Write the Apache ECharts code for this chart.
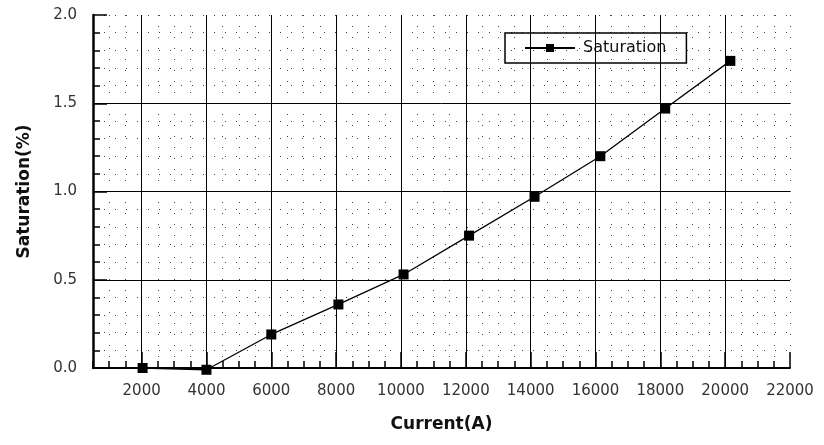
<!DOCTYPE html>
<html>
<head>
<meta charset="utf-8">
<script src="https://cdn.jsdelivr.net/npm/echarts@6/dist/echarts.min.js"></script>
<style>
    html, body { margin: 0; padding: 0; background: #fff; }
    #chart { width: 824px; height: 445px; }
</style>
</head>
<body>
<div id="chart"></div>
<script>
// values
const currentA = [2030, 4000, 6000, 8070, 10080, 12100, 14120, 16150, 18150, 20160];
const saturation = [0.0, -0.01, 0.19, 0.36, 0.53, 0.75, 0.97, 1.20, 1.47, 1.74];

// solid grid lines and long ticks
const majorX = [2000, 4000, 6000, 8000, 10000, 12000, 14000, 16000, 18000, 20000];
const majorY = [0.5, 1.0, 1.5];
const xLabels = [2000, 4000, 6000, 8000, 10000, 12000, 14000, 16000, 18000, 20000, 22000];
const yLabels = [0.0, 0.5, 1.0, 1.5, 2.0];

const FONT = 'DejaVu Sans';
const chart = echarts.init(document.getElementById('chart'));

const minorSplit = {
    show: true,
    lineStyle: { color: '#444', width: 1, type: [1, 10] }
};

chart.setOption({
    animation: false,
    grid: { left: 93, right: 34, top: 15, bottom: 77 },
    legend: {
        data: ['Saturation'],
        left: 505,
        top: 33,
        padding: [7, 20, 7, 19],
        itemWidth: 50,
        itemHeight: 10,
        borderColor: '#000',
        borderWidth: 1.5,
        textStyle: { fontFamily: FONT, fontSize: 16, color: '#111', padding: [0, 0, 0, 3] }
    },
    xAxis: [{
        type: 'value',
        min: 500,
        max: 22000,
        interval: 500,
        name: 'Current(A)',
        nameLocation: 'middle',
        nameGap: 48,
        nameTextStyle: { fontFamily: FONT, fontSize: 17, fontWeight: 'bold', color: '#111' },
        axisLine: { lineStyle: { color: '#000', width: 2 } },
        axisTick: { inside: true, length: 7, lineStyle: { color: '#000', width: 1.5 } },
        axisLabel: {
            margin: 16,
            fontFamily: FONT,
            fontSize: 15,
            color: '#333',
            formatter: (v) => xLabels.includes(v) ? String(v) : ''
        },
        splitLine: minorSplit
    }, {
        type: 'value',
        min: 500,
        max: 22000,
        interval: 500,
        position: 'bottom',
        axisLine: { show: false },
        axisTick: { inside: true, length: 16, customValues: xLabels, lineStyle: { color: '#000', width: 1.5 } },
        axisLabel: { show: false },
        splitLine: { show: false }
    }],
    yAxis: [{
        type: 'value',
        min: 0,
        max: 2,
        interval: 0.1,
        name: 'Saturation(%)',
        nameLocation: 'middle',
        nameGap: 60,
        nameTextStyle: { fontFamily: FONT, fontSize: 17, fontWeight: 'bold', color: '#111' },
        axisLine: { show: true, lineStyle: { color: '#000', width: 2.5 } },
        axisTick: { show: true, inside: true, length: 7, lineStyle: { color: '#000', width: 1.5 } },
        axisLabel: {
            margin: 16,
            fontFamily: FONT,
            fontSize: 15,
            color: '#333',
            formatter: (v) => yLabels.some(l => Math.abs(l - v) < 1e-6) ? v.toFixed(1) : ''
        },
        splitLine: minorSplit
    }, {
        type: 'value',
        min: 0,
        max: 2,
        interval: 0.5,
        position: 'left',
        axisLine: { show: false },
        axisTick: { show: true, inside: true, length: 14, lineStyle: { color: '#000', width: 1.5 } },
        axisLabel: { show: false },
        splitLine: { show: false }
    }],
    series: [{
        name: 'Saturation',
        type: 'line',
        data: currentA.map((x, i) => [x, saturation[i]]),
        symbol: 'rect',
        symbolSize: 10,
        clip: false,
        itemStyle: { color: '#000' },
        lineStyle: { color: '#000', width: 1.3 },
        markLine: {
            silent: true,
            symbol: 'none',
            label: { show: false },
            lineStyle: { color: '#000', width: 1, type: 'solid' },
            data: majorX.map(x => ({ xAxis: x })).concat(majorY.map(y => ({ yAxis: y })))
        }
    }]
});
</script>
</body>
</html>
